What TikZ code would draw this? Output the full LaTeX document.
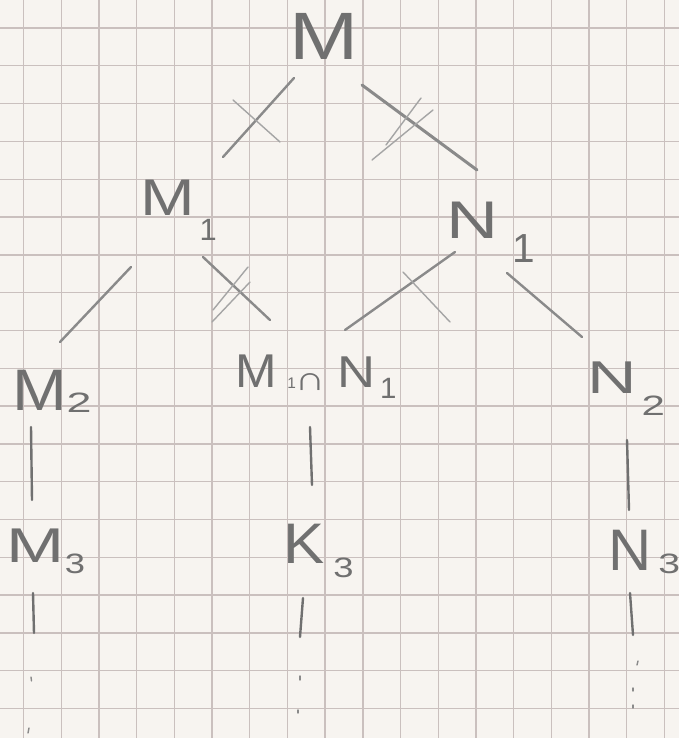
\documentclass[tikz,border=0pt]{standalone}
\usepackage{graphicx}
\usepackage{fontspec}
\setmainfont{Liberation Sans}
\usetikzlibrary{calc}
\definecolor{paper}{RGB}{247,244,240}
\definecolor{gridc}{RGB}{202,192,190}
\definecolor{pencil}{RGB}{112,112,112}
\definecolor{pencilline}{RGB}{138,138,138}
\definecolor{pencillight}{RGB}{165,165,165}
\newcommand{\fs}[1]{\fontsize{#1}{#1}\selectfont}
\newcommand{\sx}[2]{\scalebox{#1}[1]{#2}}
\begin{document}
\begin{tikzpicture}[x=0.5pt,y=-0.5pt,
  lbl/.style={inner sep=0pt, outer sep=0pt, anchor=base west, text=pencil},
  edge/.style={draw=pencilline, line width=1.2pt, line cap=round},
  vedge/.style={draw=pencil, line width=1.2pt, line cap=round},
  tick/.style={draw=pencillight, line width=0.7pt, line cap=round},
  gridline/.style={draw=gridc, line width=0.7pt}]
\fill[paper] (0,0) rectangle (679,738);
\useasboundingbox (0,0) rectangle (679,738);
\begin{scope}
\clip (0,0) rectangle (679,738);
\foreach \k in {0,...,17} \draw[gridline] ({23.5+37.7*\k},0) -- ({23.5+37.7*\k},738);
\foreach \k in {0,...,18} \draw[gridline] (0,{28+37.8*\k}) -- (679,{28+37.8*\k});
\end{scope}
% labels
\node[lbl] (M) at (289,60) {\fs{33.5}\sx{1.24}{M}};
\node[lbl] (M1) at (140,215) {\fs{25.8}\sx{1.27}{M}\hspace{2.5pt}\raisebox{-12.5pt}{\fs{15.4}1}};
\node[lbl] (N1) at (446.5,238) {\fs{26.5}\sx{1.36}{N}\hspace{7pt}\raisebox{-12pt}{\fs{20.3}1}};
\node[lbl] (M2) at (12,410) {\fs{29.3}\sx{1.12}{M}\hspace{0pt}\raisebox{-1pt}{\fs{14}\sx{1.6}{2}}};
\node[lbl] (MN) at (235.3,387) {\fs{23.7}\sx{1.05}{M}\hspace{5.25pt}\raisebox{-0.5pt}{\fs{7.7}1}\hspace{-0.5pt}\raisebox{-1.5pt}{\fs{16.8}\sx{1.26}{∩}}\hspace{6pt}\fs{22.3}\sx{1.18}{N}\hspace{2.4pt}\raisebox{-5.5pt}{\fs{14.7}1}};
\node[lbl] (N2) at (587.8,393) {\fs{23}\sx{1.49}{N}\hspace{2.2pt}\raisebox{-11pt}{\fs{14}\sx{1.5}{2}}};
\node[lbl] (M3) at (6.8,562) {\fs{24.4}\sx{1.43}{M}\hspace{0pt}\raisebox{-5.5pt}{\fs{14}\sx{1.3}{3}}};
\node[lbl] (K3) at (283.5,563) {\fs{28.6}\sx{1.08}{K}\hspace{4.3pt}\raisebox{-7pt}{\fs{14}\sx{1.3}{3}}};
\node[lbl] (N3) at (608.5,570) {\fs{29.3}\sx{1.02}{N}\hspace{3.3pt}\raisebox{-1.5pt}{\fs{14}\sx{1.4}{3}}};
% connectors
\draw[edge] ($(M.base west)+(5,18)$) -- ($(M1.base west)+(83,-58)$);
\draw[edge, line width=1.5pt] ($(M.base west)+(73,25)$) -- ($(N1.base west)+(30.5,-68)$);
\draw[edge] ($(M1.base west)+(-9,52)$) -- ($(M2.base west)+(48,-68)$);
\draw[edge] ($(M1.base west)+(63,42)$) -- ($(MN.base west)+(34.7,-67)$);
\draw[edge] ($(N1.base west)+(8.5,14)$) -- ($(MN.base west)+(109.7,-57)$);
\draw[edge] ($(N1.base west)+(60.5,35)$) -- ($(N2.base west)+(-5.8,-56)$);
\draw[vedge] ($(M2.base west)+(19,17)$) -- ($(M3.base west)+(25.2,-62)$);
\draw[vedge] ($(MN.base west)+(74.7,40)$) -- ($(K3.base west)+(28.5,-78)$);
\draw[vedge] ($(N2.base west)+(39.2,47)$) -- ($(N3.base west)+(20.5,-60)$);
\coordinate (m4) at (34,633);
\coordinate (k4) at (300,637);
\coordinate (n4) at (633,635);
\draw[vedge] ($(M3.base west)+(26.2,31)$) -- (m4);
\draw[vedge] ($(K3.base west)+(19.5,35)$) -- (k4);
\draw[vedge] ($(N3.base west)+(21.5,23)$) -- (n4);
% cross marks
\draw[tick] (233,100) -- (280,142);
\draw[tick] (421,98) -- (386,145);
\draw[tick] (433,110) -- (372,160);
\draw[tick] (248,267) -- (213,310);
\draw[tick] (250,282) -- (212,322);
\draw[tick] (403,272) -- (450,322);
% continuation dots
\draw[tick, draw=pencilline] (31,677) -- (31.5,681);
\draw[tick, draw=pencilline] (29,728) -- (28,733);
\draw[tick, draw=pencilline] (300,676) -- (300,680);
\draw[tick, draw=pencilline] (298,710) -- (298,713);
\draw[tick, draw=pencilline] (638,661) -- (637,665);
\draw[tick, draw=pencilline] (633,688) -- (633,691);
\draw[tick, draw=pencilline] (633,705) -- (633,708);
\end{tikzpicture}
\end{document}
